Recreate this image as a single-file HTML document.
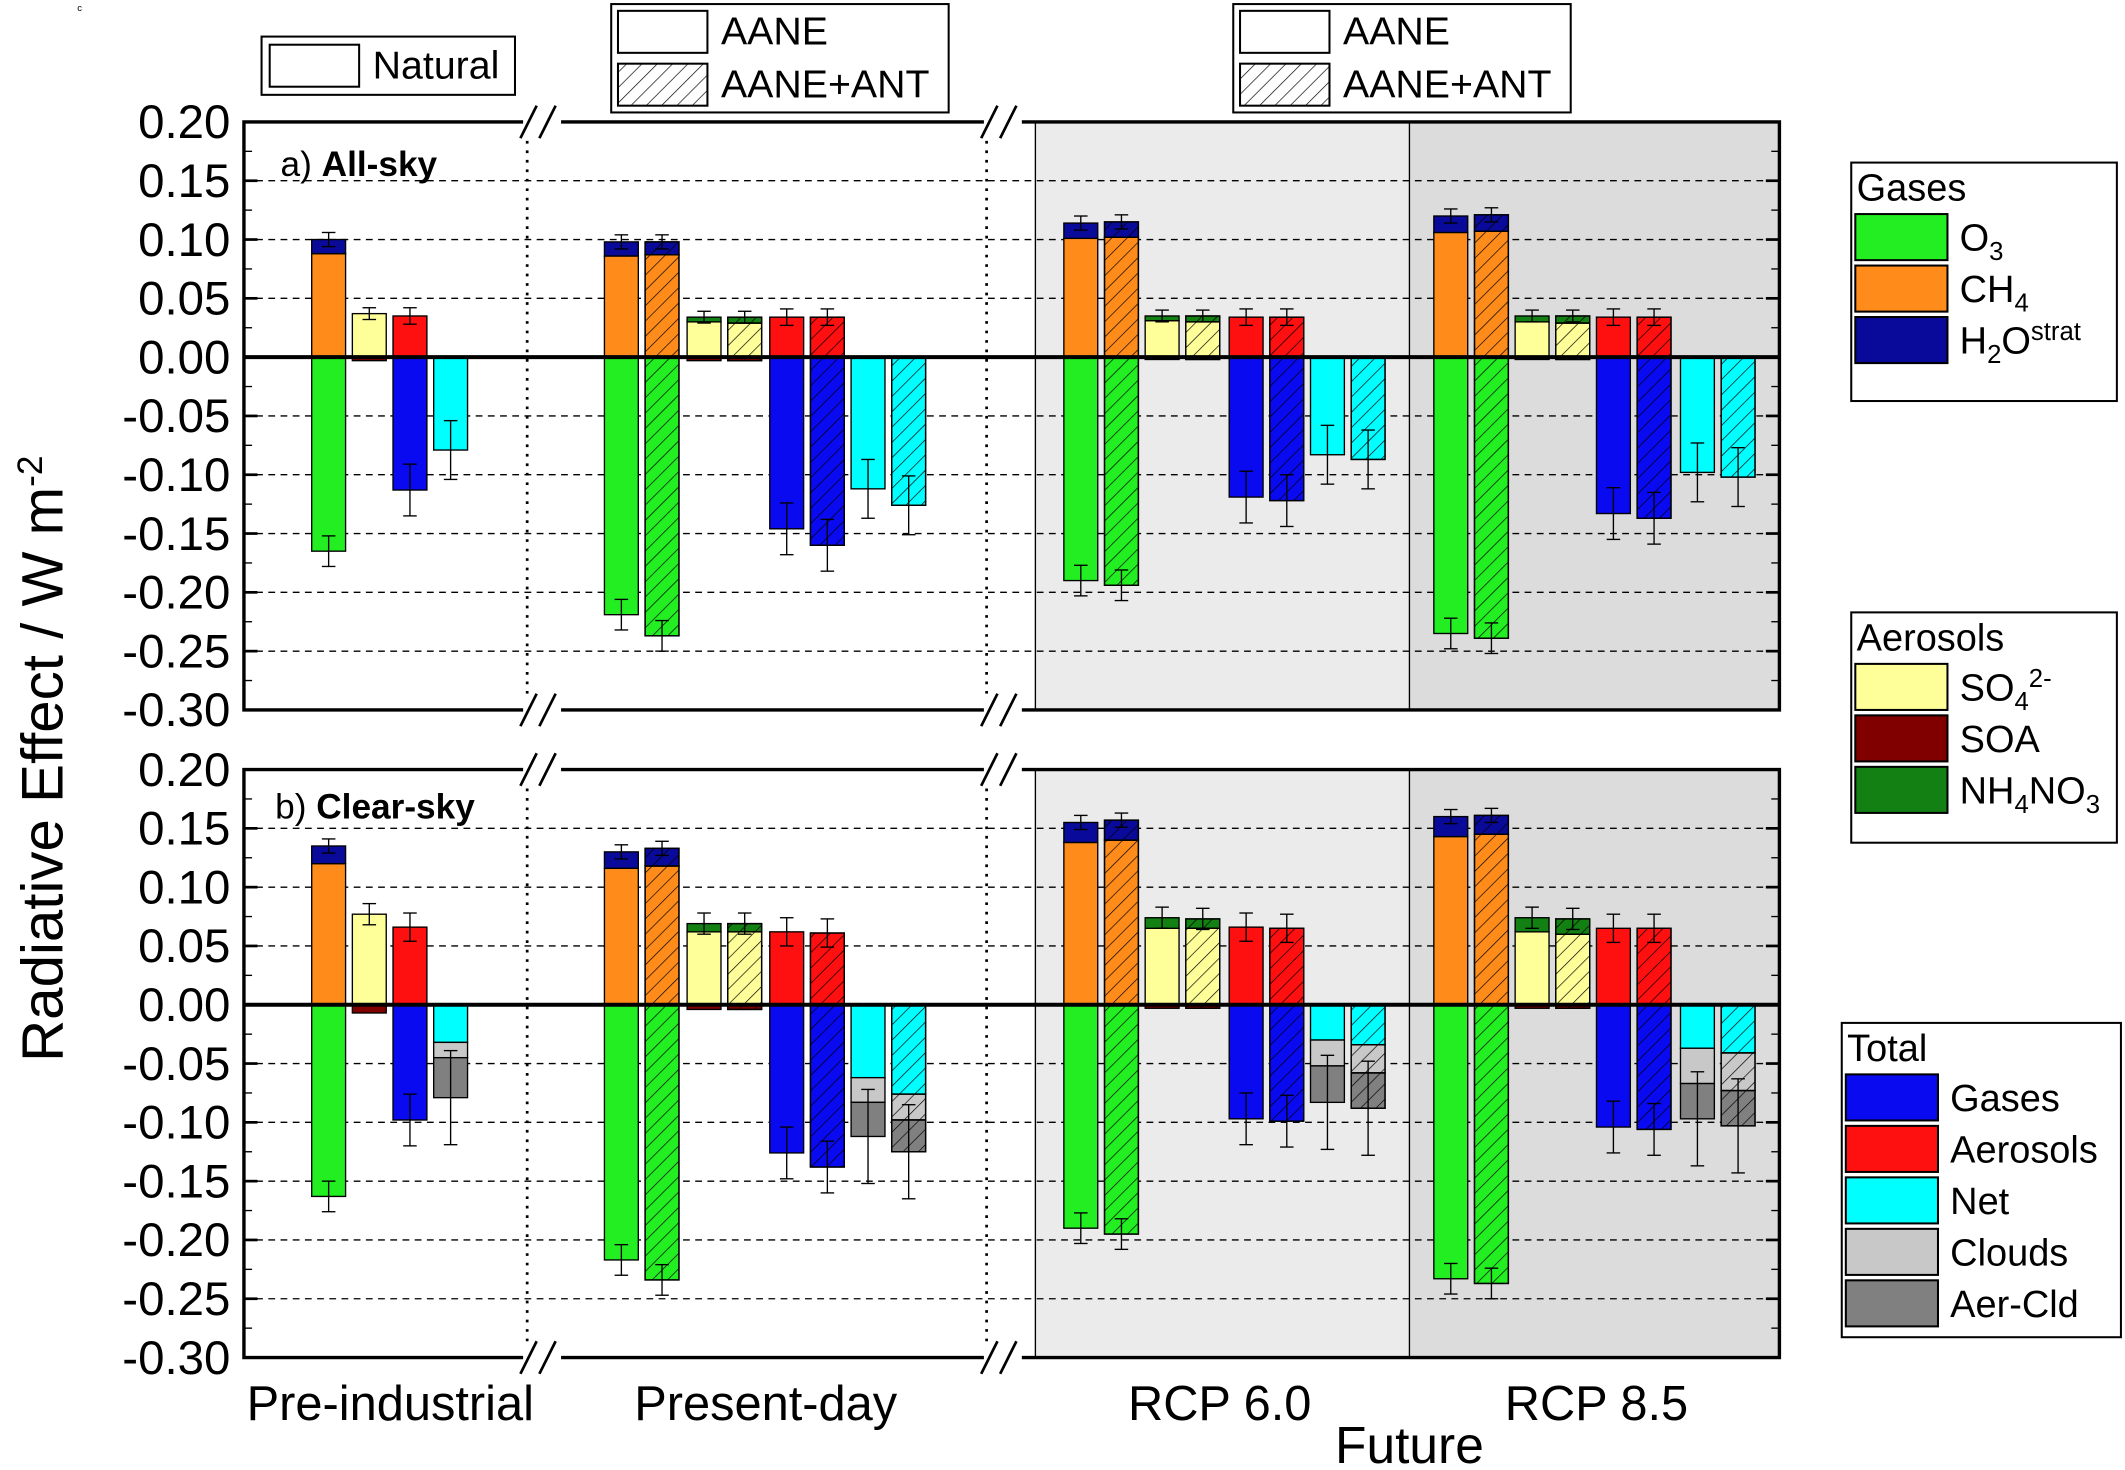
<!DOCTYPE html>
<html><head><meta charset="utf-8"><style>
html,body{margin:0;padding:0;background:#fff}
svg{display:block}
text{font-family:"Liberation Sans",Arial,sans-serif}
</style></head><body>
<svg id="s" width="2125" height="1470" viewBox="0 0 1568 1085" preserveAspectRatio="none" xmlns="http://www.w3.org/2000/svg">
<defs>
<pattern id="h" patternUnits="userSpaceOnUse" width="8" height="8" patternTransform="rotate(45)">
<line x1="0" y1="0" x2="0" y2="8" stroke="#000" stroke-width="1"/>
</pattern>
</defs>
<g id="g"></g>
</svg>
<script>
var G=document.getElementById('g'),o='';
function R(x,y,w,h,f,hat){if(h<0){y+=h;h=-h}o+='<rect x="'+x+'" y="'+y+'" width="'+w+'" height="'+h+'" fill="'+f+'" stroke="#000" stroke-width="1"/>';if(hat)o+='<rect x="'+x+'" y="'+y+'" width="'+w+'" height="'+h+'" fill="url(#h)" stroke="#000" stroke-width="1"/>';}
function T(x,y,t,s,a,extra){o+='<text x="'+x+'" y="'+y+'" font-size="'+s+'" text-anchor="'+(a||'start')+'" '+(extra||'')+'>'+t+'</text>';}
function L(x1,y1,x2,y2,st){o+='<line x1="'+x1+'" y1="'+y1+'" x2="'+x2+'" y2="'+y2+'" stroke="#000" '+(st||'stroke-width="1"')+'/>';}
var C={o3:'#22ee22',ch4:'#ff8c1a',h2o:'#0a0a9a',so4:'#ffff99',soa:'#800000',nh4:'#138013',gas:'#0a0af0',aer:'#ff1010',net:'#00ffff',cld:'#c8c8c8',ac:'#808080'};
var W=25;
var panels=[{top:90,zero:263.6},{top:568,zero:741.6}];
var sc=43.4/0.05;
panels.forEach(function(p){
 o+='<rect x="764" y="'+p.top+'" width="276" height="434" fill="#ebebeb"/>';
 o+='<rect x="1040" y="'+p.top+'" width="273" height="434" fill="#dcdcdc"/>';
 L(764,p.top,764,p.top+434,'stroke="#999"');L(1040,p.top,1040,p.top+434,'stroke="#888"');
 for(var i=0;i<=10;i++){var y=p.top+i*43.4;if(i>0&&i<10&&i!=4)L(180,y,1313,y,'stroke="#999" stroke-dasharray="5,4" stroke-width="1"');}
 L(389,p.top,389,p.top+434,'stroke="#000" stroke-dasharray="2,5" stroke-width="2"');
 L(728,p.top,728,p.top+434,'stroke="#000" stroke-dasharray="2,5" stroke-width="2"');
});
function Y(p,v){return p.zero-v*sc}
function bar(p,x,v0,v1,c,hat){R(x,Y(p,v0),W,Y(p,v1)-Y(p,v0),c,hat)}
function eb(p,x,v,e){var y1=Y(p,v-e),y2=Y(p,v+e),cx=x+W/2;L(cx,y1,cx,y2);L(cx-5,y1,cx+5,y1);L(cx-5,y2,cx+5,y2);}
var gx=[[230],[446,476],[785,815],[1058,1088]];
var ax=[[260],[507,537],[845,875],[1118,1148]];
var tx=[[290],[568,598],[907,937],[1178,1208]];
var nx=[[320],[628,658],[967,997],[1240,1270]];
var A={g:[[[.088,.100,-.165]],[[.086,.098,-.219],[.087,.098,-.237]],[[.101,.114,-.190],[.102,.115,-.194]],[[.106,.120,-.235],[.107,.121,-.239]]],
 a:[[[.037,.037,-.003]],[[.030,.034,-.003],[.029,.034,-.003]],[[.031,.035,-.002],[.030,.035,-.002]],[[.030,.035,-.002],[.029,.035,-.002]]],
 t:[[[.035,-.113]],[[.034,-.146],[.034,-.160]],[[.034,-.119],[.034,-.122]],[[.034,-.133],[.034,-.137]]],
 n:[[[-.079]],[[-.112],[-.126]],[[-.083],[-.087]],[[-.098],[-.102]]]};
var B={g:[[[.120,.135,-.163]],[[.116,.130,-.217],[.118,.133,-.234]],[[.138,.155,-.190],[.140,.157,-.195]],[[.143,.160,-.233],[.145,.161,-.237]]],
 a:[[[.077,.077,-.007]],[[.062,.069,-.004],[.062,.069,-.004]],[[.065,.074,-.003],[.065,.073,-.003]],[[.062,.074,-.003],[.060,.073,-.003]]],
 t:[[[.066,-.098]],[[.062,-.126],[.061,-.138]],[[.066,-.097],[.065,-.099]],[[.065,-.104],[.065,-.106]]],
 n:[[[-.032,-.045,-.079]],[[-.062,-.083,-.112],[-.076,-.098,-.125]],[[-.030,-.052,-.083],[-.034,-.058,-.088]],[[-.037,-.067,-.097],[-.041,-.073,-.103]]]};
[A,B].forEach(function(D,pi){var p=panels[pi],cl=pi==1;
 for(var g=0;g<4;g++)for(var k=0;k<gx[g].length;k++){var h=k==1;
  var d=D.g[g][k],x=gx[g][k];bar(p,x,0,d[0],C.ch4,h);bar(p,x,d[0],d[1],C.h2o,h);bar(p,x,0,d[2],C.o3,h);eb(p,x,d[1],.006);eb(p,x,d[2],.013);
  d=D.a[g][k];x=ax[g][k];bar(p,x,0,d[0],C.so4,h);if(d[1]>d[0])bar(p,x,d[0],d[1],C.nh4,h);bar(p,x,0,d[2],C.soa,h);eb(p,x,d[1],cl?.009:.005);
  d=D.t[g][k];x=tx[g][k];bar(p,x,0,d[0],C.aer,h);bar(p,x,0,d[1],C.gas,h);eb(p,x,d[0],cl?.012:.007);eb(p,x,d[1],.022);
  d=D.n[g][k];x=nx[g][k];bar(p,x,0,d[0],C.net,h);if(d.length>1){bar(p,x,d[0],d[1],C.cld,h);bar(p,x,d[1],d[2],C.ac,h);}eb(p,x,d[d.length-1],cl?.04:.025);
 }
 L(180,p.zero,1313,p.zero,'stroke="#000" stroke-width="3"');
 o+='<rect x="180" y="'+p.top+'" width="1133" height="434" fill="none" stroke="#000" stroke-width="2.5"/>';
 for(var i=0;i<=10;i++){var y=p.top+i*43.4;L(180,y,190,y,'stroke="#000" stroke-width="2"');L(1303,y,1313,y,'stroke="#000" stroke-width="2"');
  var v=(0.2-i*0.05);var s=(v<-0.001?'-':'')+Math.abs(v).toFixed(2);T(170,y+12,s,35,'end');}
 for(var i=0;i<10;i++){var y=p.top+i*43.4+21.7;L(180,y,186,y);L(1307,y,1313,y);}
 [400,740].forEach(function(bx){[p.top,p.top+434].forEach(function(by){
  o+='<rect x="'+(bx-14)+'" y="'+(by-10)+'" width="28" height="20" fill="#fff"/>';
  L(bx-16,by+12,bx-4,by-12,'stroke="#000" stroke-width="2"');L(bx-2,by+12,bx+10,by-12,'stroke="#000" stroke-width="2"');});});
});
T(207,130,'a) <tspan font-weight="bold">All-sky</tspan>',26);
T(203,604,'b) <tspan font-weight="bold">Clear-sky</tspan>',26);
T(46,560,'Radiative Effect / W m<tspan dy="-15" font-size="26">-2</tspan>',43,'middle','transform="rotate(-90 46 560)"');
T(288,1048,'Pre-industrial',36,'middle');T(565,1048,'Present-day',36,'middle');
T(900,1048,'RCP 6.0',36,'middle');T(1178,1048,'RCP 8.5',36,'middle');T(1040,1080,'Future',38,'middle');
T(57,8,'c',7);
o+='<rect x="193" y="27" width="187" height="43" fill="#fff" stroke="#000" stroke-width="1.5"/>';
o+='<rect x="199" y="33" width="66" height="31" fill="#fff" stroke="#000" stroke-width="1.5"/>';T(275,58,'Natural',29);
[451,910].forEach(function(x){o+='<rect x="'+x+'" y="3" width="249" height="80" fill="#fff" stroke="#000" stroke-width="1.5"/>';
 o+='<rect x="'+(x+5)+'" y="8" width="66" height="31" fill="#fff" stroke="#000" stroke-width="1.5"/>';
 o+='<rect x="'+(x+5)+'" y="47" width="66" height="31" fill="url(#h)" stroke="#000" stroke-width="1.5"/>';
 T(x+81,33,'AANE',29);T(x+81,72,'AANE+ANT',29);});
function LG(x,y,w,h,title,items){o+='<rect x="'+x+'" y="'+y+'" width="'+w+'" height="'+h+'" fill="#fff" stroke="#000" stroke-width="1.5"/>';T(x+4,y+28,title,28);
 items.forEach(function(it,i){var yy=y+38+i*38;o+='<rect x="'+(x+3)+'" y="'+yy+'" width="68" height="34" fill="'+it[0]+'" stroke="#000" stroke-width="1.5"/>';T(x+80,yy+27,it[1],28);});}
LG(1366,120,196,176,'Gases',[[C.o3,'O<tspan dy="7" font-size="19">3</tspan>'],[C.ch4,'CH<tspan dy="7" font-size="19">4</tspan>'],[C.h2o,'H<tspan dy="7" font-size="19">2</tspan><tspan dy="-7">O</tspan><tspan dy="-10" font-size="19">strat</tspan>']]);
LG(1366,452,196,170,'Aerosols',[[C.so4,'SO<tspan dy="7" font-size="19">4</tspan><tspan dy="-17" font-size="19">2-</tspan>'],[C.soa,'SOA'],[C.nh4,'NH<tspan dy="7" font-size="19">4</tspan><tspan dy="-7">NO</tspan><tspan dy="7" font-size="19">3</tspan>']]);
LG(1359,755,206,232,'Total',[[C.gas,'Gases'],[C.aer,'Aerosols'],[C.net,'Net'],[C.cld,'Clouds'],[C.ac,'Aer-Cld']]);
G.innerHTML=o;
</script>
</body></html>
